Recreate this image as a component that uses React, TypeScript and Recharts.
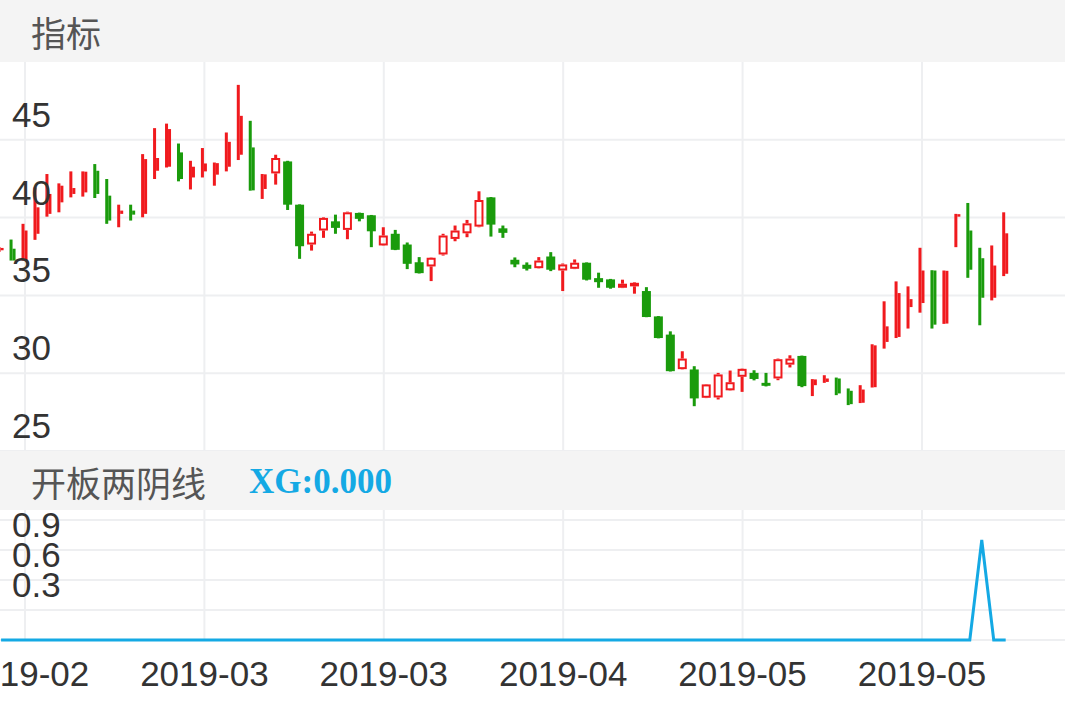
import { ComposedChart, Bar, Line, XAxis, YAxis, CartesianGrid } from 'recharts';

// daily OHLC
const opens = [
  37.9, 38.0, 37.24, 38.96, 40.24, 40.98, 41.52, 41.62, 43.01, 41.41,
  40.24, 40.45, 40.24, 43.01, 43.27, 44.19, 42.58, 42.97, 42.76, 43.27,
  44.04, 44.51, 41.84, 42.84, 43.61, 40.83, 38.27, 39.17, 39.76, 39.21,
  40.3, 40.15, 38.21, 38.96, 38.27, 37.13, 36.86, 37.63, 38.63, 38.99,
  39.42, 41.3, 39.31, 37.29, 36.97, 36.75, 37.5, 36.6, 36.71, 37.1,
  36.11, 36.03, 35.49, 35.58, 35.28, 33.65, 32.48, 30.26, 30.24, 28.42,
  28.44, 28.9, 29.77, 30.02, 29.38, 29.66, 30.55, 31.11, 29.23, 29.44,
  29.66, 28.87, 28.1, 29.1, 32.01, 32.33, 34.25, 34.51, 36.6, 33.19,
  40.06, 39.17, 37.39, 34.85, 36.39,
];
const highs = [
  38.1, 38.59, 39.6, 41.94, 42.8, 42.2, 42.97, 42.97, 43.44, 42.48,
  40.83, 40.83, 44.08, 45.75, 46.04, 44.76, 43.65, 44.47, 43.54, 45.47,
  48.53, 46.22, 42.8, 44.04, 43.65, 40.85, 39.1, 40.02, 40.19, 40.38,
  40.32, 40.17, 39.38, 39.21, 38.4, 37.46, 37.44, 38.96, 39.49, 39.85,
  41.69, 41.32, 39.49, 37.44, 37.12, 37.46, 37.78, 37.05, 37.31, 37.12,
  36.46, 36.06, 36.01, 35.85, 35.53, 33.67, 32.69, 31.41, 30.45, 29.3,
  30.02, 30.17, 30.3, 30.19, 30.02, 30.94, 31.15, 31.13, 29.62, 29.87,
  29.72, 29.02, 29.23, 31.86, 34.62, 35.9, 35.58, 38.06, 36.62, 36.6,
  40.24, 40.94, 38.06, 38.21, 40.34,
];
const lows = [
  37.8, 37.24, 37.24, 38.57, 40.06, 40.34, 41.3, 41.35, 41.26, 39.6,
  39.38, 39.81, 40.02, 42.48, 43.22, 42.33, 41.81, 42.58, 42.05, 42.97,
  43.7, 41.73, 41.2, 42.12, 40.49, 37.35, 37.88, 38.7, 38.96, 38.61,
  39.76, 38.1, 38.19, 37.91, 36.69, 36.41, 35.92, 37.56, 38.48, 38.74,
  39.38, 38.78, 38.7, 36.81, 36.6, 36.73, 36.56, 35.28, 36.69, 35.96,
  35.49, 35.43, 35.47, 35.11, 33.6, 32.24, 30.11, 30.24, 27.88, 28.4,
  28.31, 28.88, 28.8, 29.54, 29.15, 29.55, 30.37, 29.1, 28.53, 29.38,
  28.59, 27.95, 28.08, 29.08, 31.58, 32.26, 32.87, 33.89, 32.87, 33.17,
  38.1, 36.13, 33.08, 34.68, 36.24,
];
const closes = [
  38.05, 37.24, 39.17, 40.66, 41.52, 42.05, 41.9, 42.95, 41.52, 39.81,
  40.45, 40.19, 43.76, 43.83, 45.69, 42.48, 43.27, 43.48, 43.5, 44.87,
  46.54, 41.75, 42.78, 43.83, 40.83, 38.16, 38.96, 39.98, 39.34, 40.34,
  39.92, 39.12, 38.85, 37.93, 37.03, 36.43, 37.42, 38.85, 39.17, 39.63,
  41.13, 39.55, 39.02, 36.99, 36.71, 37.24, 36.65, 36.99, 37.1, 36.01,
  35.85, 35.49, 35.75, 35.81, 33.61, 32.26, 30.13, 30.94, 28.38, 29.28,
  29.92, 29.42, 30.28, 29.63, 29.19, 30.9, 30.94, 29.17, 29.6, 29.66,
  28.7, 28.01, 28.95, 31.79, 33.01, 35.15, 34.76, 36.6, 33.12, 36.58,
  40.22, 36.65, 34.85, 36.92, 38.99,
];
// XG signal
const xg = [
  0, 0, 0, 0, 0, 0, 0, 0, 0, 0, 0, 0, 0, 0, 0, 0, 0, 0, 0, 0,
  0, 0, 0, 0, 0, 0, 0, 0, 0, 0, 0, 0, 0, 0, 0, 0, 0, 0, 0, 0,
  0, 0, 0, 0, 0, 0, 0, 0, 0, 0, 0, 0, 0, 0, 0, 0, 0, 0, 0, 0,
  0, 0, 0, 0, 0, 0, 0, 0, 0, 0, 0, 0, 0, 0, 0, 0, 0, 0, 0, 0,
  0, 0, 1, 0, 0,
];

const dateTicks = [2, 17, 32, 47, 62, 77];
const dateLabels = ['2019-02', '2019-03', '2019-03', '2019-04', '2019-05', '2019-05'];
const priceTicks = [25, 30, 35, 40, 45];
const xgTicks = [0, 0.3, 0.6, 0.9, 1.2];
const xgLabels = [0.3, 0.6, 0.9];

const rows = opens.map((o, i) => ({
  i,
  o,
  h: highs[i],
  l: lows[i],
  c: closes[i],
  range: [lows[i], highs[i]],
  xg: xg[i],
}));

const RED = '#f01a1e';
const GREEN = '#1a9b0c';
const GRID = '#eeeff1';
const LABEL_FONT = '"Liberation Sans", Arial, sans-serif';
const CJK_FONT = '"Noto Sans CJK SC", sans-serif';
const X_DOMAIN = [-0.09, 88.96];

function Candle(props: any) {
  const { x, y, width, height, payload } = props;
  if (!payload) return null;
  const { o, h, l, c, i } = payload;
  const cx = x + width / 2;
  const span = h - l || 1;
  const toY = (v: number) => y + ((h - v) / span) * height;
  const up = c >= o;
  const color = up ? RED : GREEN;
  const top = toY(Math.max(o, c));
  const bodyH = Math.max(toY(Math.min(o, c)) - top, 1.5);
  const hy = toY(h);
  const ly = toY(l);

  // the dense ends of the chart are drawn as narrow split bars
  if (i < 23 || i >= 68) {
    return (
      <g>
        <rect x={cx - 3} y={hy} width={3} height={Math.max(ly - hy, 1.5)} fill={color} />
        <rect x={cx} y={top} width={3} height={bodyH} fill={color} />
      </g>
    );
  }

  if (up) {
    return (
      <g>
        <rect x={cx - 1.5} y={hy} width={3} height={Math.max(top - hy, 0)} fill={color} />
        <rect x={cx - 1.5} y={top + bodyH} width={3} height={Math.max(ly - top - bodyH, 0)} fill={color} />
        {bodyH > 4 ? (
          <rect x={cx - 3.5} y={top + 1} width={7} height={bodyH - 2} fill="none" stroke={color} strokeWidth={2} />
        ) : (
          <rect x={cx - 4.5} y={top} width={9} height={bodyH} fill={color} />
        )}
      </g>
    );
  }
  return (
    <g>
      <rect x={cx - 1.5} y={hy} width={3} height={Math.max(ly - hy, 1.5)} fill={color} />
      <rect x={cx - 4.5} y={top} width={9} height={bodyH} fill={color} />
    </g>
  );
}

function PriceTick(props: any) {
  const { y, payload } = props;
  return (
    <text x={12} y={y - 13} fontSize={35} fill="#333" fontFamily={LABEL_FONT}>
      {payload.value}
    </text>
  );
}

function XgTick(props: any) {
  const { y, payload } = props;
  if (!xgLabels.includes(payload.value)) return null;
  return (
    <text x={12} y={y - 13} fontSize={35} fill="#333" fontFamily={LABEL_FONT}>
      {payload.value.toFixed(1)}
    </text>
  );
}

function DateTick(props: any) {
  const { x, payload } = props;
  const idx = dateTicks.indexOf(payload.value);
  return (
    <text x={x} y={176} textAnchor="middle" fontSize={35} fill="#333" fontFamily={LABEL_FONT}>
      {dateLabels[idx]}
    </text>
  );
}

const headerStyle: React.CSSProperties = {
  position: 'relative',
  background: '#f4f4f4',
  color: '#555',
  fontSize: 35,
  fontFamily: CJK_FONT,
};

export default function App() {
  return (
    <div style={{ width: 1065, height: 708, position: 'relative', overflow: 'hidden', background: '#fff' }}>
      <style>{'body{margin:0}'}</style>
      <div style={{ ...headerStyle, height: 62 }}>
        <span style={{ position: 'absolute', left: 31, top: 31, transform: 'translateY(-50%)', lineHeight: 1 }}>指标</span>
      </div>
      <ComposedChart width={1065} height={389} data={rows} margin={{ top: 0, right: 0, bottom: 0, left: -1 }}>
        <CartesianGrid stroke={GRID} strokeWidth={2} syncWithTicks />
        <XAxis dataKey="i" type="number" domain={X_DOMAIN} ticks={dateTicks} hide />
        <YAxis
          domain={[25, 50]}
          ticks={priceTicks}
          interval={0}
          width={1}
          axisLine={false}
          tickLine={false}
          tick={<PriceTick />}
        />
        <Bar dataKey="range" shape={<Candle />} barSize={9} isAnimationActive={false} />
      </ComposedChart>
      <div style={{ ...headerStyle, height: 59 }}>
        <span style={{ position: 'absolute', left: 31, top: 30, transform: 'translateY(-50%)', lineHeight: 1 }}>开板两阴线</span>
        <span
          style={{
            position: 'absolute',
            left: 249,
            top: 30,
            transform: 'translateY(-50%)',
            lineHeight: 1,
            color: '#14a9e4',
            fontWeight: 'bold',
            fontSize: 35,
            fontFamily: '"Liberation Serif", "Times New Roman", serif',
          }}
        >
          {`XG:${xg[xg.length - 1].toFixed(3)}`}
        </span>
      </div>
      <ComposedChart width={1065} height={198} data={rows} margin={{ top: 0, right: 0, bottom: 0, left: -1 }}>
        <CartesianGrid stroke={GRID} strokeWidth={2} syncWithTicks />
        <XAxis
          dataKey="i"
          type="number"
          domain={X_DOMAIN}
          ticks={dateTicks}
          interval={0}
          height={68}
          axisLine={false}
          tickLine={false}
          tick={<DateTick />}
        />
        <YAxis
          domain={[0, 1.3]}
          ticks={xgTicks}
          interval={0}
          width={1}
          axisLine={false}
          tickLine={false}
          tick={<XgTick />}
        />
        <Line
          type="linear"
          dataKey="xg"
          stroke="#14a9e4"
          strokeWidth={3}
          dot={false}
          activeDot={false}
          isAnimationActive={false}
        />
      </ComposedChart>
    </div>
  );
}
